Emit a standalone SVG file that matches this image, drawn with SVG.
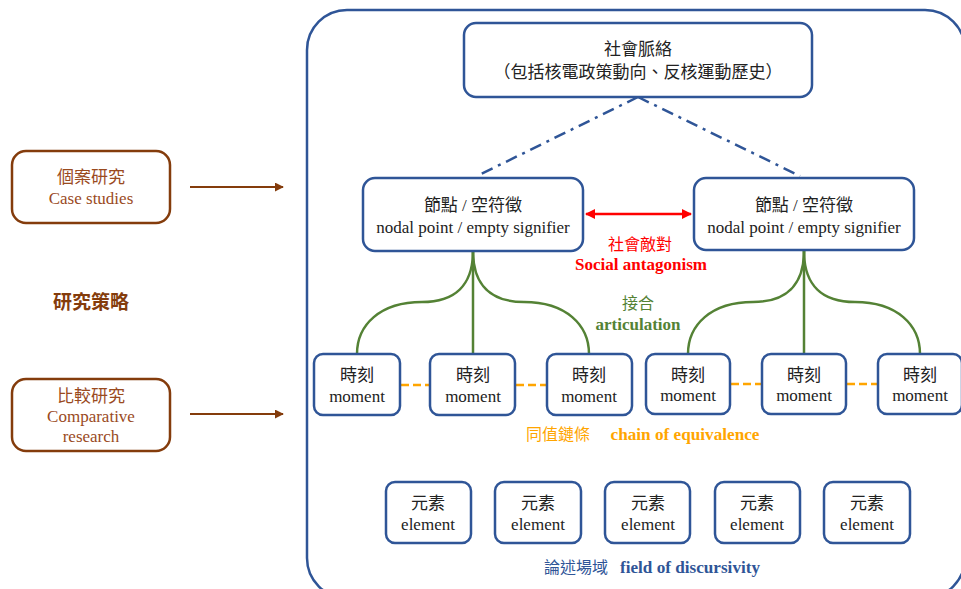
<svg xmlns="http://www.w3.org/2000/svg" width="961" height="589" viewBox="0 0 961 589">
<defs>
<style>
.t{font-family:"Liberation Serif","Noto Sans CJK TC",serif;font-size:17px;fill:#222;text-anchor:middle}
.b{fill:#fff;stroke:#2F5597;stroke-width:2.5}
.br{fill:#fff;stroke:#843C0C;stroke-width:2.5}
.bt{font-family:"Liberation Serif","Noto Sans CJK TC",serif;font-size:17px;fill:#9A4A1E;text-anchor:middle}
.g{fill:none;stroke:#548235;stroke-width:2.5}
.o{stroke:#FFA500;stroke-width:2.5;stroke-dasharray:8 4}
.bold{font-weight:bold;font-size:16px}
</style>
<marker id="ar" viewBox="0 0 10 10" refX="9" refY="5" markerWidth="4.5" markerHeight="4.5" orient="auto"><path d="M0,0L10,5L0,10z" fill="#843C0C"/></marker>
<marker id="rr" viewBox="0 0 10 10" refX="9" refY="5" markerWidth="4" markerHeight="4" orient="auto-start-reverse"><path d="M0,0L10,5L0,10z" fill="#FF0000"/></marker>
</defs>
<rect x="307" y="10" width="658" height="588" rx="40" fill="none" stroke="#2F5597" stroke-width="2.5"/>
<g id="connectors">
<path d="M638,97L477,176M638,97L800,176" fill="none" stroke="#2F5597" stroke-width="2.5" stroke-dasharray="12 6 3 6"/>
<line x1="586" y1="214" x2="691" y2="214" stroke="#FF0000" stroke-width="2.5" marker-start="url(#rr)" marker-end="url(#rr)"/>
<path class="g" d="M473,251C473,285 455,302 422,302C380,302 357,325 357,354"/>
<path class="g" d="M473,251L473,354"/>
<path class="g" d="M473,251C473,285 491,302 524,302C566,302 589,325 589,354"/>
<path class="g" d="M804,251C804,285 786,302 753,302C711,302 688,325 688,354"/>
<path class="g" d="M804,251L804,354"/>
<path class="g" d="M804,251C804,285 822,302 855,302C897,302 920,325 920,354"/>
<line class="o" x1="401" y1="385" x2="430" y2="385"/>
<line class="o" x1="516" y1="385" x2="546" y2="385"/>
<line class="o" x1="731" y1="384" x2="761" y2="384"/>
<line class="o" x1="847" y1="384" x2="877" y2="384"/>
<line x1="190" y1="187" x2="283" y2="187" stroke="#843C0C" stroke-width="2" marker-end="url(#ar)"/>
<line x1="190" y1="414" x2="283" y2="414" stroke="#843C0C" stroke-width="2" marker-end="url(#ar)"/>
</g>
<g id="context"><rect class="b" x="464" y="23" width="348" height="74" rx="12"/><text class="t" x="638" y="55">社會脈絡</text><text class="t" x="638" y="78">（包括核電政策動向、反核運動歷史）</text></g>
<g id="nodal1"><rect class="b" x="363" y="178" width="220" height="73" rx="12"/><text class="t" x="473" y="211">節點 / 空符徵</text><text class="t" x="473" y="233">nodal point / empty signifier</text></g>
<g id="nodal2"><rect class="b" x="694" y="178" width="220" height="72" rx="12"/><text class="t" x="804" y="211">節點 / 空符徵</text><text class="t" x="804" y="233">nodal point / empty signifier</text></g>
<g id="m1"><rect class="b" x="314" y="354" width="86" height="61" rx="9"/><text class="t" x="357" y="381">時刻</text><text class="t" x="357" y="402">moment</text></g>
<g id="m2"><rect class="b" x="430" y="354" width="85" height="61" rx="9"/><text class="t" x="473" y="381">時刻</text><text class="t" x="473" y="402">moment</text></g>
<g id="m3"><rect class="b" x="547" y="354" width="85" height="61" rx="9"/><text class="t" x="589" y="381">時刻</text><text class="t" x="589" y="402">moment</text></g>
<g id="m4"><rect class="b" x="646" y="354" width="84" height="60" rx="9"/><text class="t" x="688" y="381">時刻</text><text class="t" x="688" y="401">moment</text></g>
<g id="m5"><rect class="b" x="762" y="354" width="84" height="60" rx="9"/><text class="t" x="804" y="381">時刻</text><text class="t" x="804" y="401">moment</text></g>
<g id="m6"><rect class="b" x="878" y="354" width="84" height="60" rx="9"/><text class="t" x="920" y="381">時刻</text><text class="t" x="920" y="401">moment</text></g>
<g id="e1"><rect class="b" x="386" y="482" width="85" height="61" rx="9"/><text class="t" x="428" y="509">元素</text><text class="t" x="428" y="530">element</text></g>
<g id="e2"><rect class="b" x="495" y="482" width="86" height="61" rx="9"/><text class="t" x="538" y="509">元素</text><text class="t" x="538" y="530">element</text></g>
<g id="e3"><rect class="b" x="605" y="482" width="85" height="61" rx="9"/><text class="t" x="648" y="509">元素</text><text class="t" x="648" y="530">element</text></g>
<g id="e4"><rect class="b" x="715" y="482" width="85" height="61" rx="9"/><text class="t" x="757" y="509">元素</text><text class="t" x="757" y="530">element</text></g>
<g id="e5"><rect class="b" x="824" y="482" width="86" height="61" rx="9"/><text class="t" x="867" y="509">元素</text><text class="t" x="867" y="530">element</text></g>
<g id="case"><rect class="br" x="12" y="151" width="158" height="72" rx="14"/><text class="bt" x="91" y="183">個案研究</text><text class="bt" x="91" y="204">Case studies</text></g>
<g id="comparative"><rect class="br" x="12" y="379" width="158" height="72" rx="14"/><text class="bt" x="91" y="402">比較研究</text><text class="bt" x="91" y="422">Comparative</text><text class="bt" x="91" y="442">research</text></g>
<g id="labels">
<text class="t" x="91" y="309" style="fill:#843C0C;font-size:19px;font-weight:bold">研究策略</text>
<text class="t" x="640" y="250" style="fill:#FF0000;font-size:16px">社會敵對</text>
<text class="t bold" x="641" y="270" style="fill:#FF0000" textLength="132" lengthAdjust="spacingAndGlyphs">Social antagonism</text>
<text class="t" x="638" y="309" style="fill:#548235;font-size:16px">接合</text>
<text class="t bold" x="638" y="330" style="fill:#548235" textLength="85" lengthAdjust="spacingAndGlyphs">articulation</text>
<text class="t" x="558" y="440" style="fill:#FFA500;font-size:16px">同值鏈條</text>
<text class="t bold" x="685" y="440" style="fill:#FFA500" textLength="149" lengthAdjust="spacingAndGlyphs">chain of equivalence</text>
<text class="t" x="576" y="573" style="fill:#2F5597;font-size:16px">論述場域</text>
<text class="t bold" x="690" y="573" style="fill:#2F5597" textLength="140" lengthAdjust="spacingAndGlyphs">field of discursivity</text>
</g>
</svg>
